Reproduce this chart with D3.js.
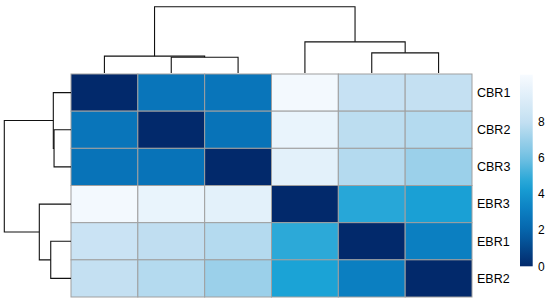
<!DOCTYPE html>
<html>
<head>
<meta charset="utf-8">
<script src="https://cdn.jsdelivr.net/npm/d3@7"></script>
<style>
  html, body { margin: 0; padding: 0; background: #ffffff; }
  svg { display: block; }
  text { font-family: "Liberation Sans", Arial, sans-serif; fill: #000; }
</style>
</head>
<body>
<svg id="chart" width="550" height="304"></svg>
<script>
// ---- data ----
const rowLabels = ["CBR1", "CBR2", "CBR3", "EBR3", "EBR1", "EBR2"];
const colLabels = ["CBR1", "CBR2", "CBR3", "EBR3", "EBR1", "EBR2"];
const rowCBR1 = [0.0, 2.7, 2.7, 10.4, 8.1, 8.0];
const rowCBR2 = [2.7, 0.0, 2.6, 9.9, 7.8, 7.6];
const rowCBR3 = [2.6, 2.6, 0.0, 9.6, 7.6, 7.0];
const rowEBR3 = [10.4, 9.9, 9.6, 0.0, 4.7, 4.4];
const rowEBR1 = [8.3, 7.9, 7.6, 4.8, 0.0, 3.1];
const rowEBR2 = [8.0, 7.6, 7.0, 4.5, 3.1, 0.0];
const matrix = [rowCBR1, rowCBR2, rowCBR3, rowEBR3, rowEBR1, rowEBR2];
// hclust-style merges: negative = leaf index (1-based, display order), positive = earlier merge
const rowMerge = [[-2, -3], [-1, 1], [-5, -6], [-4, 3], [2, 4]];
const rowHeights = [4.6, 4.8, 5.5, 8.6, 18.1];
const colMerge = [[-2, -3], [-1, 1], [-5, -6], [-4, 3], [2, 4]];
const colHeights = [4.3, 4.6, 5.5, 8.5, 18.1];
const legendTicks = [0, 2, 4, 6, 8];
const valueMax = 10.6;
const colorStops = [0, 2, 3, 4.5, 6, 8, 10.6];
const colorValues = ["#02296b", "#0665ac", "#0a7cc0", "#1ba3d6", "#72c0e2", "#c4e0f2", "#f7fbff"];

// ---- layout ----
const svg = d3.select("#chart");
const hx0 = 71, hx1 = 472, hy0 = 74, hy1 = 297;

const x = d3.scaleBand().domain(colLabels.map((d, i) => i)).range([hx0, hx1]).padding(0);
const y = d3.scaleBand().domain(rowLabels.map((d, i) => i)).range([hy0, hy1]).padding(0);
const color = d3.scaleLinear().domain(colorStops).range(colorValues).interpolate(d3.interpolateRgb).clamp(true);

// ---- heatmap cells ----
const cells = [];
matrix.forEach((row, ri) => row.forEach((v, ci) => cells.push({ ri, ci, v })));
svg.append("g").selectAll("rect").data(cells).join("rect")
  .attr("x", d => x(d.ci))
  .attr("y", d => y(d.ri))
  .attr("width", x.bandwidth())
  .attr("height", y.bandwidth())
  .attr("fill", d => color(d.v))
  .attr("stroke", "#a0a0a0")
  .attr("stroke-width", 1);

// ---- dendrograms ----
function buildTree(merge, heights, posFn) {
  const nodes = [];
  merge.forEach((m, k) => {
    const pts = m.map(c => c < 0 ? { p: posFn(-c - 1), h: 0 } : nodes[c - 1]);
    nodes.push({ p: (pts[0].p + pts[1].p) / 2, h: heights[k], kids: pts });
  });
  return nodes;
}
const colPos = i => x(i) + x.bandwidth() / 2;
const rowPos = i => y(i) + y.bandwidth() / 2;

// top dendrogram (columns)
const topH = d3.scaleLinear().domain([0, d3.max(colHeights)]).range([73, 6.7]);
const colNodes = buildTree(colMerge, colHeights, colPos);
const gTop = svg.append("g").attr("fill", "none").attr("stroke", "#111").attr("stroke-width", 1.1);
colNodes.forEach(n => {
  const [a, b] = n.kids;
  const yy = topH(n.h);
  gTop.append("path").attr("d",
    `M${a.p},${topH(a.h)}V${yy}H${b.p}V${topH(b.h)}`);
});

// left dendrogram (rows)
const leftH = d3.scaleLinear().domain([0, d3.max(rowHeights)]).range([71, 4.3]);
const rowNodes = buildTree(rowMerge, rowHeights, rowPos);
const gLeft = svg.append("g").attr("fill", "none").attr("stroke", "#111").attr("stroke-width", 1.1);
rowNodes.forEach(n => {
  const [a, b] = n.kids;
  const xx = leftH(n.h);
  gLeft.append("path").attr("d",
    `M${leftH(a.h)},${a.p}H${xx}V${b.p}H${leftH(b.h)}`);
});

// ---- row labels ----
svg.append("g").selectAll("text").data(rowLabels).join("text")
  .attr("x", 477)
  .attr("y", (d, i) => rowPos(i))
  .attr("dy", "0.35em")
  .attr("font-size", "12.5px")
  .text(d => d);

// ---- legend ----
const ly = d3.scaleLinear().domain([0, valueMax]).range([266.3, 74.7]);
const defs = svg.append("defs");
const grad = defs.append("linearGradient").attr("id", "lg")
  .attr("x1", 0).attr("y1", 1).attr("x2", 0).attr("y2", 0);
d3.range(0, 1.0001, 0.05).forEach(t => {
  grad.append("stop").attr("offset", t).attr("stop-color", color(t * valueMax));
});
svg.append("rect")
  .attr("x", 520).attr("y", ly(valueMax))
  .attr("width", 12.7).attr("height", ly(0) - ly(valueMax))
  .attr("fill", "url(#lg)");
svg.append("g").selectAll("text").data(legendTicks).join("text")
  .attr("x", 538)
  .attr("y", d => ly(d))
  .attr("dy", "0.35em")
  .attr("font-size", "12px")
  .text(d => d);
</script>
</body>
</html>
